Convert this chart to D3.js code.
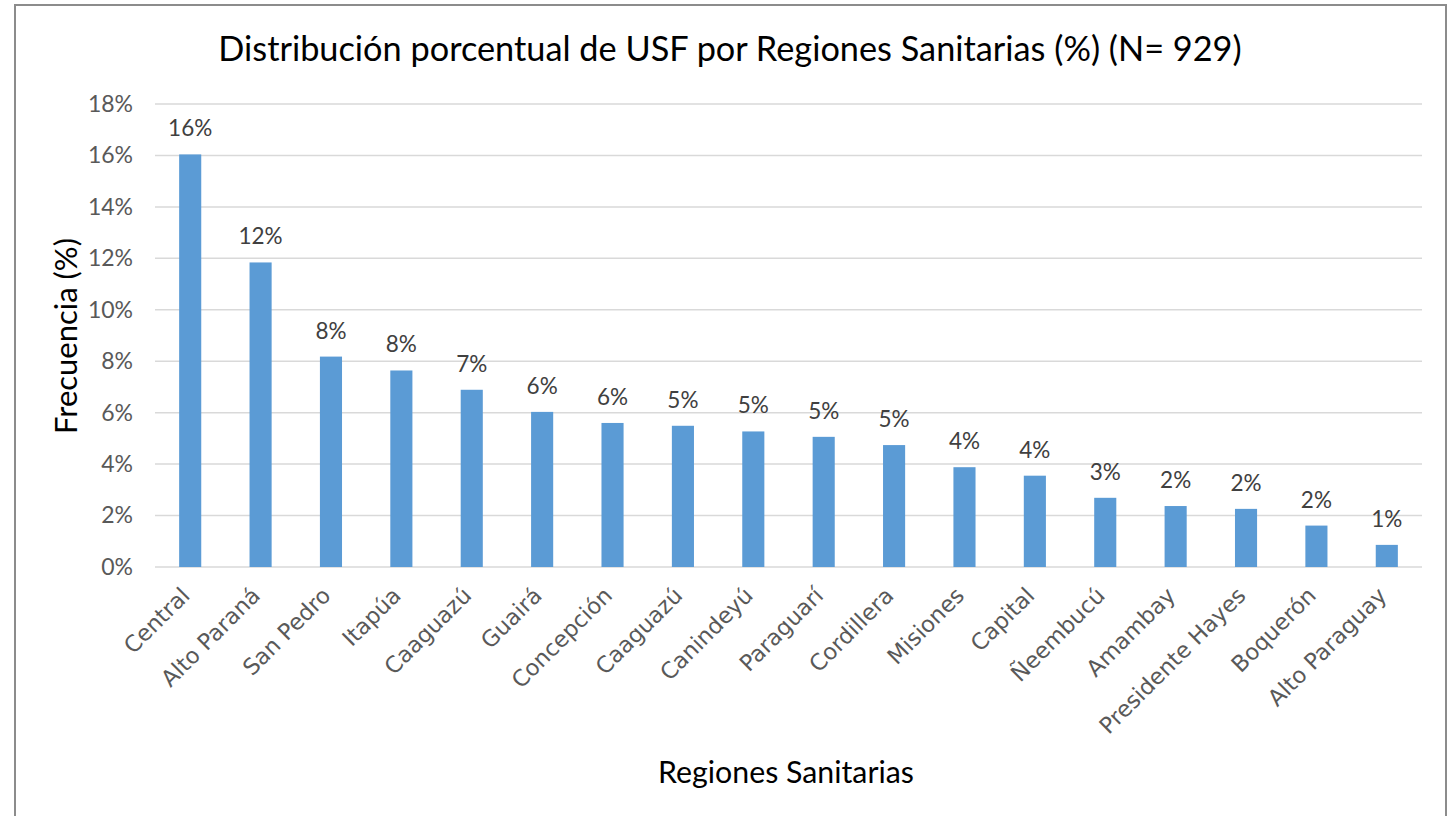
<!DOCTYPE html>
<html>
<head>
<meta charset="utf-8">
<script src="https://cdn.jsdelivr.net/npm/d3@7"></script>
<style>
  body { margin: 0; background: #fff; }
</style>
</head>
<body>
<script>
// chart data
let regions = ["Central", "Alto Paraná", "San Pedro", "Itapúa", "Caaguazú", "Guairá", "Concepción",
	"Caaguazú ", "Canindeyú", "Paraguarí", "Cordillera", "Misiones", "Capital", "Ñeembucú",
	"Amambay", "Presidente Hayes", "Boquerón", "Alto Paraguay"];
let percents = [16.04, 11.84, 8.18, 7.64, 6.89, 6.03, 5.60, 5.49, 5.27, 5.06, 4.74, 3.88, 3.55, 2.69, 2.37, 2.26, 1.61, 0.86];
let yTicks = [0, 2, 4, 6, 8, 10, 12, 14, 16, 18];

let title = "Distribución porcentual de USF por Regiones Sanitarias (%) (N= 929)";
let xTitle = "Regiones Sanitarias";
let yTitle = "Frecuencia (%)";

let data = regions.map((r, i) => ({ region: r, value: percents[i] }));

let svg = d3.select("body").append("svg")
	.attr("width", 1453)
	.attr("height", 816);

let width = +svg.attr("width");
let height = +svg.attr("height");

let margin = { top: 104, right: 31, bottom: 249, left: 155 };
let innerWidth = width - margin.left - margin.right;
let innerHeight = height - margin.top - margin.bottom;

let numFont = "Lato, 'Open Sans', sans-serif";
let catFont = "'DejaVu Sans', Verdana, sans-serif";
let titleFont = "Lato, 'Open Sans', sans-serif";

// outer frame (bottom edge is outside the picture)
svg.append("path")
	.attr("d", `M15,${height} V5 H1446 V${height}`)
	.attr("fill", "none")
	.attr("stroke", "#8c8c8c")
	.attr("stroke-width", 2);

let g = svg.append("g")
	.attr("transform", `translate(${margin.left}, ${margin.top})`);

let x = d3.scaleBand()
	.domain(regions)
	.range([0, innerWidth])
	.paddingInner(0.686)
	.paddingOuter(0.343);

let y = d3.scaleLinear()
	.domain([0, 18])
	.range([innerHeight, 0]);

// gridlines
g.append("g")
	.selectAll("line")
	.data(yTicks)
	.enter().append("line")
	.attr("x1", 0)
	.attr("x2", innerWidth)
	.attr("y1", d => y(d))
	.attr("y2", d => y(d))
	.attr("stroke", "#d9d9d9")
	.attr("stroke-width", 1.5);

// y axis labels
let yAxis = d3.axisLeft(y)
	.tickValues(yTicks)
	.tickFormat(d => d + "%")
	.tickSize(0)
	.tickPadding(22);

g.append("g")
	.call(yAxis)
	.call(a => a.select(".domain").remove())
	.selectAll("text")
	.attr("font-family", numFont)
	.attr("font-size", 23)
	.attr("fill", "#595959");

// x axis labels, rotated
let xAxis = d3.axisBottom(x)
	.tickSize(0)
	.tickPadding(0);

g.append("g")
	.attr("transform", `translate(0, ${innerHeight})`)
	.call(xAxis)
	.call(a => a.select(".domain").remove())
	.selectAll("text")
	.attr("font-family", catFont)
	.attr("font-size", 22.5)
	.attr("fill", "#595959")
	.attr("text-anchor", "end")
	.attr("dy", "0")
	.attr("transform", "translate(1, 30) rotate(-45)");

// bars
g.selectAll("rect.bar")
	.data(data)
	.enter().append("rect")
	.attr("class", "bar")
	.attr("x", d => x(d.region))
	.attr("y", d => y(d.value))
	.attr("width", x.bandwidth())
	.attr("height", d => innerHeight - y(d.value))
	.attr("fill", "#5b9bd5");

// value labels
g.selectAll("text.val")
	.data(data)
	.enter().append("text")
	.attr("class", "val")
	.attr("x", d => x(d.region) + x.bandwidth() / 2)
	.attr("y", d => y(d.value) - 18)
	.attr("text-anchor", "middle")
	.attr("font-family", numFont)
	.attr("font-size", 22.5)
	.attr("fill", "#404040")
	.text(d => Math.round(d.value) + "%");

// fit a text to a target width
function fitText(sel, targetWidth) {
	let fs = +sel.attr("font-size");
	let w = sel.node().getComputedTextLength();
	if (w > 0) sel.attr("font-size", fs * targetWidth / w);
}

// titles
let t = svg.append("text")
	.attr("x", 730)
	.attr("y", 61)
	.attr("text-anchor", "middle")
	.attr("font-family", titleFont)
	.attr("font-size", 32)
	.attr("fill", "#000")
	.text(title);
fitText(t, 1024);

let xt = svg.append("text")
	.attr("x", 786)
	.attr("y", 783)
	.attr("text-anchor", "middle")
	.attr("font-family", titleFont)
	.attr("font-size", 27)
	.attr("fill", "#000")
	.text(xTitle);
fitText(xt, 256);

let yt = svg.append("text")
	.attr("transform", "translate(77, 336) rotate(-90)")
	.attr("text-anchor", "middle")
	.attr("font-family", titleFont)
	.attr("font-size", 27)
	.attr("fill", "#000")
	.text(yTitle);
fitText(yt, 196);
</script>
</body>
</html>
